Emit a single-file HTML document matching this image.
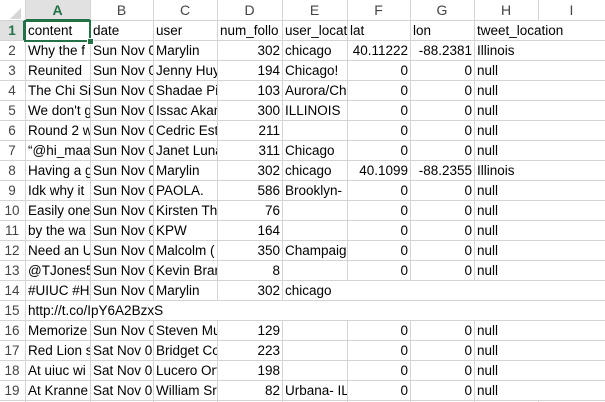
<!DOCTYPE html>
<html><head><meta charset="utf-8"><style>
body{margin:0;width:605px;height:402px;overflow:hidden;background:#fff;font-family:"Liberation Sans",sans-serif;}
#g{position:relative;width:605px;height:402px;}
.c{position:absolute;height:19px;line-height:19px;font-size:13.5px;color:#000;overflow:hidden;white-space:nowrap;box-sizing:border-box;padding:0 2px;}
.r{text-align:right;}
.h{position:absolute;text-align:center;font-size:14px;color:#444;line-height:21px;height:21px;}
.v{position:absolute;top:0;width:1px;height:402px;background:#d4d4d4;}
.hl{position:absolute;left:0;width:605px;height:1px;background:#d4d4d4;}
</style></head><body>
<div id="g"></div>
<script>
const cols=[25,90,153,217,282,347,410,474,538,605];
const letters=['A','B','C','D','E','F','G','H','I'];
const rows=[
['content','date','user','num_follo','user_locat','lat','lon','tweet_location'],
['Why the f','Sun Nov 0','Marylin','302','chicago','40.11222','-88.2381','Illinois'],
['Reunited','Sun Nov 0','Jenny Huy','194','Chicago!','0','0','null'],
['The Chi Si','Sun Nov 0','Shadae Pi','103','Aurora/Ch','0','0','null'],
["We don't g",'Sun Nov 0','Issac Akan','300','ILLINOIS','0','0','null'],
['Round 2 w','Sun Nov 0','Cedric Est','211','','0','0','null'],
['\u201c@hi_maa','Sun Nov 0','Janet Luna','311','Chicago','0','0','null'],
['Having a g','Sun Nov 0','Marylin','302','chicago','40.1099','-88.2355','Illinois'],
['Idk why it','Sun Nov 0','PAOLA.','586','Brooklyn-','0','0','null'],
['Easily one','Sun Nov 0','Kirsten Th','76','','0','0','null'],
['by the wa','Sun Nov 0','KPW','164','','0','0','null'],
['Need an U','Sun Nov 0','Malcolm (','350','Champaig','0','0','null'],
['@TJones5','Sun Nov 0','Kevin Bran','8','','0','0','null'],
['#UIUC #HA','Sun Nov 0','Marylin','302','chicago','','',''],
['http://t.co/IpY6A2BzxS','','','','','','',''],
['Memorize','Sun Nov 0','Steven Mu','129','','0','0','null'],
['Red Lion s','Sat Nov 02','Bridget Co','223','','0','0','null'],
['At uiuc wi','Sat Nov 02','Lucero Ort','198','','0','0','null'],
['At Kranne','Sat Nov 02','William Sr','82','Urbana- IL','0','0','null']
];
const g=document.getElementById('g');
let hb=document.createElement('div');hb.style.cssText='position:absolute;left:0;top:0;width:605px;height:21px;background:#fff;';
g.appendChild(hb);
let sa=document.createElement('div');sa.style.cssText='position:absolute;left:25px;top:0;width:65px;height:21px;background:#e1e1e1;border-bottom:2px solid #217346;box-sizing:border-box;';
g.appendChild(sa);
let sr=document.createElement('div');sr.style.cssText='position:absolute;left:0;top:21px;width:25px;height:20px;background:#e1e1e1;border-right:2px solid #217346;box-sizing:border-box;';
g.appendChild(sr);
let cn=document.createElement('div');cn.style.cssText='position:absolute;left:10px;top:8px;width:0;height:0;border-left:11px solid transparent;border-bottom:11px solid #d6d6d6;';
g.appendChild(cn);
for(const x of cols){let v=document.createElement('div');v.className='v';v.style.left=x+'px';


g.appendChild(v);}
for(let i=0;i<=19;i++){let h=document.createElement('div');h.className='hl';h.style.top=(20+i*20)+'px';


g.appendChild(h);}
letters.forEach((l,i)=>{let d=document.createElement('div');d.className='h';d.style.left=cols[i]+'px';d.style.width=(cols[i+1]-cols[i])+'px';d.textContent=l;if(i===0){d.style.color='#217346';d.style.fontWeight='bold';}


g.appendChild(d);});
for(let i=1;i<=19;i++){let d=document.createElement('div');d.className='c';d.style.left='0px';d.style.width='24px';d.style.top=(21+(i-1)*20)+'px';d.style.textAlign='center';d.style.color=i===1?'#217346':'#444';if(i===1)d.style.fontWeight='bold';d.textContent=i;


g.appendChild(d);}
rows.forEach((row,ri)=>{row.forEach((t,ci)=>{if(t==='')return;
 let w=cols[ci+1]-cols[ci];
 let spill=false;
 if(isNaN(parseFloat(t))||ri===0){let k=ci+1;while(k<8&&row[k]===''){w+=cols[k+1]-cols[k];k++;spill=true;}if(k===8&&row.slice(ci+1).every(x=>x==='')){w=cols[9]-cols[ci];spill=true;}}
 let d=document.createElement('div');d.className='c'+((ri>0&&!isNaN(Number(t)))?' r':'');
 d.style.left=(cols[ci]+1)+'px';d.style.width=(w-1)+'px';d.style.top=(21+ri*20)+'px';d.textContent=t;
 if(spill)d.style.background='#fff';
 
 
 g.appendChild(d);});});
let sel=document.createElement('div');sel.style.cssText='position:absolute;left:24px;top:20px;width:67px;height:22px;border:2px solid #217346;box-sizing:border-box;';
g.appendChild(sel);
let hd=document.createElement('div');hd.style.cssText='position:absolute;left:87px;top:38px;width:5px;height:5px;background:#217346;border:1px solid #fff;';
g.appendChild(hd);
</script>
</body></html>
